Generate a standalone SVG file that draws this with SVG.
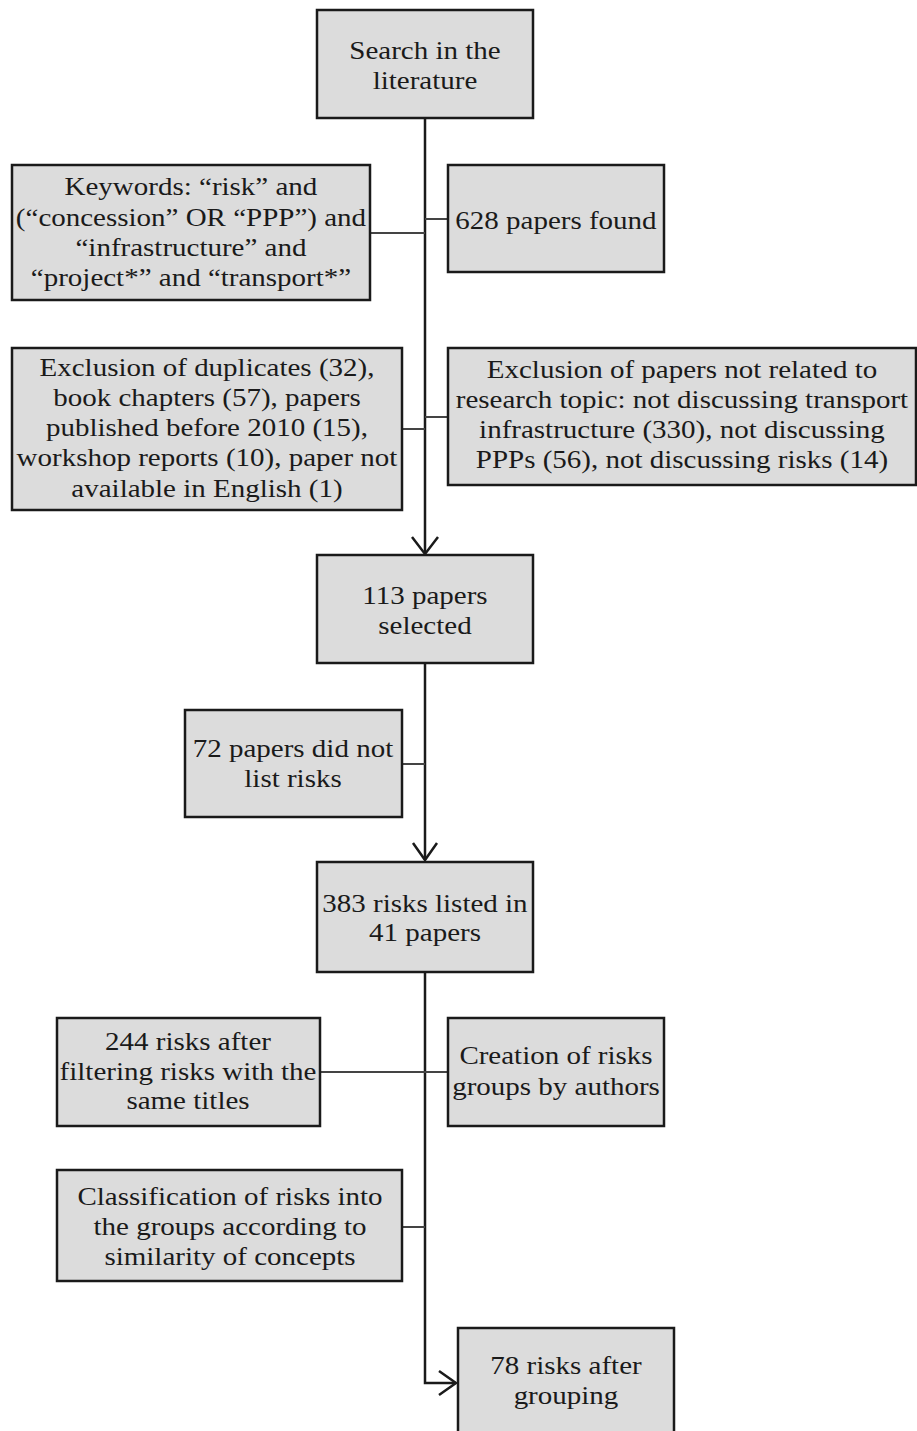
<svg xmlns="http://www.w3.org/2000/svg" width="917" height="1431" viewBox="0 0 917 1431">
<style>
.box rect{fill:#dcdcdc;stroke:#1a1a1a;stroke-width:2.5}
.box text{font-family:"Liberation Serif","Times New Roman",serif;font-size:25px;fill:#1a1a1a;text-anchor:middle;transform-box:fill-box;transform-origin:center;transform:scaleX(1.16)}
.main{stroke:#1a1a1a;stroke-width:2.5;fill:none}
.side{stroke:#444;stroke-width:2;fill:none}
.head{stroke:#1a1a1a;stroke-width:2.5;fill:none}
</style>
<rect width="917" height="1431" fill="#fff"/>
<g id="connectors">
<path class="main" d="M425,118 V553"/>
<path class="main" d="M425,663 V860"/>
<path class="main" d="M425,972 V1383 H456"/>
<path class="head" d="M412,537 L425,554 L438,537"/>
<path class="head" d="M413,843 L425,860 L437,843"/>
<path class="head" d="M439,1371 L456,1383 L439,1395"/>
<path class="side" d="M370,233 H425"/>
<path class="side" d="M425,219 H448"/>
<path class="side" d="M402,429 H425"/>
<path class="side" d="M425,417 H448"/>
<path class="side" d="M402,764 H425"/>
<path class="side" d="M320,1072 H448"/>
<path class="side" d="M402,1227 H425"/>
</g>
<g id="n1" class="box"><rect x="317" y="10" width="216" height="108"/><text x="425" y="59">Search in the</text><text x="425" y="89">literature</text></g>
<g id="n2" class="box"><rect x="12" y="165" width="358" height="135"/><text x="191" y="195">Keywords: “risk” and</text><text x="191" y="226">(“concession” OR “PPP”) and</text><text x="191" y="256">“infrastructure” and</text><text x="191" y="286">“project*” and “transport*”</text></g>
<g id="n3" class="box"><rect x="448" y="165" width="216" height="107"/><text x="556" y="229">628 papers found</text></g>
<g id="n4" class="box"><rect x="12" y="348" width="390" height="162"/><text x="207" y="376">Exclusion of duplicates (32),</text><text x="207" y="406">book chapters (57), papers</text><text x="207" y="436">published before 2010 (15),</text><text x="207" y="466">workshop reports (10), paper not</text><text x="207" y="497">available in English (1)</text></g>
<g id="n5" class="box"><rect x="448" y="348" width="468" height="137"/><text x="682" y="378">Exclusion of papers not related to</text><text x="682" y="408">research topic: not discussing transport</text><text x="682" y="438">infrastructure (330), not discussing</text><text x="682" y="468">PPPs (56), not discussing risks (14)</text></g>
<g id="n6" class="box"><rect x="317" y="555" width="216" height="108"/><text x="425" y="604">113 papers</text><text x="425" y="634">selected</text></g>
<g id="n7" class="box"><rect x="185" y="710" width="217" height="107"/><text x="293" y="757">72 papers did not</text><text x="293" y="787">list risks</text></g>
<g id="n8" class="box"><rect x="317" y="862" width="216" height="110"/><text x="425" y="912">383 risks listed in</text><text x="425" y="941">41 papers</text></g>
<g id="n9" class="box"><rect x="57" y="1018" width="263" height="108"/><text x="188" y="1050">244 risks after</text><text x="188" y="1080">filtering risks with the</text><text x="188" y="1109">same titles</text></g>
<g id="n10" class="box"><rect x="448" y="1018" width="216" height="108"/><text x="556" y="1064">Creation of risks</text><text x="556" y="1095">groups by authors</text></g>
<g id="n11" class="box"><rect x="57" y="1170" width="345" height="111"/><text x="230" y="1205">Classification of risks into</text><text x="230" y="1235">the groups according to</text><text x="230" y="1265">similarity of concepts</text></g>
<g id="n12" class="box"><rect x="458" y="1328" width="216" height="110"/><text x="566" y="1374">78 risks after</text><text x="566" y="1404">grouping</text></g>
</svg>
